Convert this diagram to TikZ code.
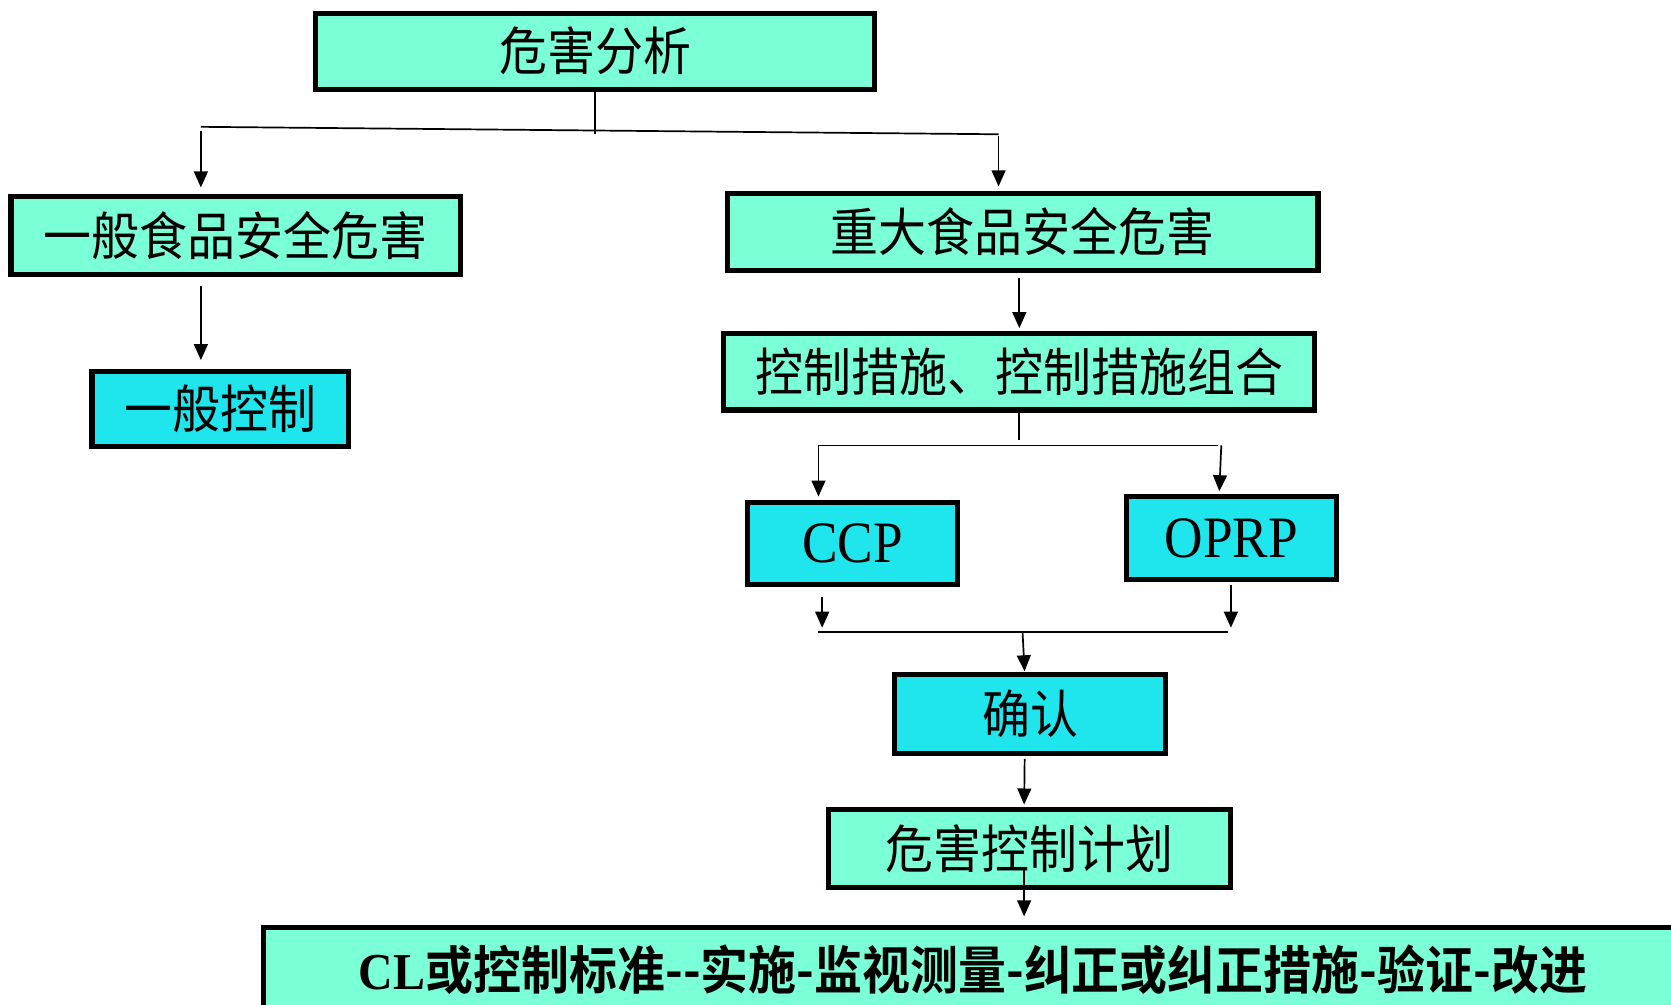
\documentclass[tikz,border=0pt]{standalone}
\usepackage{fontspec}
\newfontfamily\cjk{Noto Sans CJK SC}[BoldFont={Noto Sans CJK SC Bold}]
\newfontfamily\lat{Liberation Serif}
\usetikzlibrary{arrows.meta,calc}
\definecolor{aquaF}{RGB}{122,255,214}
\definecolor{cyanF}{RGB}{30,230,236}
\newcommand{\zh}[1]{\scalebox{1}[1.08]{#1}}
\begin{document}
\begin{tikzpicture}[x=0.5pt,y=-0.5pt,
  box/.style={draw, line width=2.4pt, inner sep=0pt, font=\cjk\fontsize{22.5}{27}\selectfont},
  aqbox/.style={box, fill=aquaF},
  cybox/.style={box, fill=cyanF},
  latf/.style={font=\lat\fontsize{25}{30}\selectfont},
  ln/.style={line width=0.8pt},
  arr/.style={ln, -{Triangle[length=7.5pt,width=6.5pt]}},
]
\clip (0,0) rectangle (1568,943);
\fill[white] (0,0) rectangle (1568,943);

% boxes
\node[aqbox, minimum width=262.2pt, minimum height=35.7pt] (ha) at (558.5,48) {\zh{危害分析}};
\node[aqbox, minimum width=210.7pt, minimum height=36.7pt] (yb) at (221,221) {\zh{一般食品安全危害}};
\node[aqbox, minimum width=277.2pt, minimum height=36.2pt] (zd) at (959.5,217.5) {\zh{重大食品安全危害}};
\node[cybox, minimum width=120.2pt, minimum height=35.2pt] (yk) at (206.5,383.5) {\zh{一般控制}};
\node[aqbox, minimum width=277.2pt, minimum height=35.7pt] (kz) at (956.5,349) {\zh{控制措施、控制措施组合}};
\node[cybox, latf, minimum width=98.7pt, minimum height=38.7pt] (ccp) at (800,510) {\scalebox{1}[1.1]{CCP}};
\node[cybox, latf, minimum width=98.2pt, minimum height=38.7pt] (oprp) at (1155.5,505) {\scalebox{1}[1.1]{OPRP}};
\node[cybox, minimum width=127.2pt, minimum height=36.7pt] (qr) at (966.5,670) {\zh{确认}};
\node[aqbox, minimum width=188.7pt, minimum height=36.7pt] (jh) at (966,796) {\zh{危害控制计划}};
\node[aqbox, minimum width=665.7pt, minimum height=39.2pt] (cl) at (913,909.5)
  {\zh{{\lat\bfseries CL}{\bfseries 或控制标准-{}-实施-监视测量-纠正或纠正措施-验证-改进}}};

% junction points
\coordinate (hL) at (188.5,119);
\coordinate (hR) at (937,126);
\coordinate (hM) at (558.5,126);
\coordinate (cM) at (956.5,413);
\coordinate (c1) at (768,418);
\coordinate (c2) at (1146,418);
\coordinate (c2b) at (1144,418);
\coordinate (cE) at (1143,418);
\coordinate (dL) at (768,593);
\coordinate (dR) at (1152,593);
\coordinate (dM) at (959.5,593);
\coordinate (d1) at (771.5,593);
\coordinate (d2) at (1155,593);

% connectors
\draw[ln] (ha.south) -- (hM);
\draw[ln] (hL) -- (hR);
\draw[arr, shorten >=3pt] ($(hL)+(0,4)$) -- (hL |- yb.north);
\draw[arr, shorten >=2pt] ($(hR)+(0,2)$) -- (hR |- zd.north);
\draw[arr, shorten <=4pt, shorten >=4pt] (yb.south -| hL) -- (hL |- yk.north);
\draw[arr, shorten <=2.5pt, shorten >=1.5pt] (zd.south -| kz.north) -- (kz.north);
\draw[ln] (kz.south) -- (cM);
\draw[ln] (c1) -- (cE);
\draw[arr, shorten >=1.5pt] (c1) -- (c1 |- ccp.north);
\draw[arr, shorten >=1.5pt] (c2) -- (c2b |- oprp.north);
\draw[arr, shorten <=4.5pt, shorten >=2pt] (d1 |- ccp.south) -- (d1);
\draw[arr, shorten <=1.5pt, shorten >=2pt] (d2 |- oprp.south) -- (d2);
\draw[ln] (dL) -- (dR);
\draw[arr, shorten >=0.5pt] (dM) -- ($(qr.north)+(-5,0)$);
\draw[arr, shorten >=1pt] ($(qr.south)+(-5,3)$) -- ($(jh.north)+(-5,0)$);
\draw[arr, shorten >=4pt] ($(jh.center)+(-5,18.6)$) -- ($(cl.north)+(48,0)$);
\end{tikzpicture}
\end{document}
